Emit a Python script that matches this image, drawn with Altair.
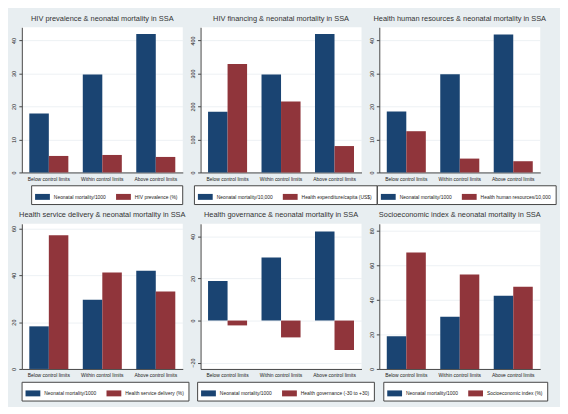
import altair as alt
import pandas as pd

categories = ["Below control limits", "Within control limits", "Above control limits"]

titles = [
    "HIV prevalence & neonatal mortality in SSA",
    "HIV financing & neonatal mortality in SSA",
    "Health human resources & neonatal mortality in SSA",
    "Health service delivery & neonatal mortality in SSA",
    "Health governance & neonatal mortality in SSA",
    "Socioeconomic index & neonatal mortality in SSA",
]
mortality_labels = [
    "Neonatal mortality/1000",
    "Neonatal mortality/10,000",
    "Neonatal mortality/1000",
    "Neonatal mortality/1000",
    "Neonatal mortality/1000",
    "Neonatal mortality/1000",
]
factor_labels = [
    "HIV prevalence (%)",
    "Health expenditure/capita (US$)",
    "Health human resources/10,000",
    "Health service delivery (%)",
    "Health governance (-30 to +30)",
    "Socioeconomic index (%)",
]
mortality_values = [
    [17.9, 29.7, 42.0],
    [184, 297, 420],
    [18.5, 29.8, 41.8],
    [18.2, 29.6, 41.9],
    [18.8, 30.0, 42.3],
    [18.9, 30.2, 42.4],
]
factor_values = [
    [5.0, 5.3, 4.7],
    [329, 215, 80],
    [12.5, 4.2, 3.4],
    [57.1, 41.2, 33.1],
    [-2.3, -8.0, -14.0],
    [67.4, 54.6, 47.5],
]
y_domains = [[0, 44], [0, 440], [0, 44], [0, 62], [-23, 46], [0, 84]]
y_ticks = [
    [0, 10, 20, 30, 40],
    [0, 100, 200, 300, 400],
    [0, 10, 20, 30, 40],
    [0, 20, 40, 60],
    [-20, 0, 20, 40],
    [0, 20, 40, 60, 80],
]

NAVY = "#1a4472"
MAROON = "#90353b"
BG = "#e8eef1"
FONT = "Liberation Sans, Arial, sans-serif"
W = 163
H = 147
LEG_FS = 5
SYM_W = 15
LEG_PAD = 4
LEG_OFF = 4
LEG_COLPAD = 10


def panel(i):
    rows = []
    for j, c in enumerate(categories):
        rows.append({"cat": c, "series": mortality_labels[i], "value": mortality_values[i][j]})
        rows.append({"cat": c, "series": factor_labels[i], "value": factor_values[i][j]})
    df = pd.DataFrame(rows)
    series = [mortality_labels[i], factor_labels[i]]
    # approximate legend width to centre it under the plot
    est_w = (2 * LEG_PAD + 2 * SYM_W + 2 * LEG_OFF + LEG_COLPAD
             + 0.43 * LEG_FS * (len(series[0]) + len(series[1])))
    leg_x = (W - est_w) / 2
    return (
        alt.Chart(df)
        .mark_bar()
        .encode(
            x=alt.X(
                "cat:N",
                sort=categories,
                scale=alt.Scale(paddingInner=0.27, paddingOuter=0.14),
                axis=alt.Axis(
                    title=None, labelAngle=0, ticks=False, labelFontSize=5,
                    labelFont=FONT, labelColor="#222", domainColor="#444",
                    labelPadding=4, grid=False,
                ),
            ),
            xOffset=alt.XOffset(
                "series:N", sort=series,
                scale=alt.Scale(paddingInner=0, paddingOuter=0),
            ),
            y=alt.Y(
                "value:Q",
                scale=alt.Scale(domain=y_domains[i], nice=False),
                axis=alt.Axis(
                    title=None, values=y_ticks[i], labelAngle=270,
                    labelFontSize=5.5, labelFont=FONT, labelColor="#222",
                    domainColor="#444", tickColor="#444", tickSize=3,
                    labelPadding=2, grid=True, gridColor="#edf1f4",
                ),
            ),
            color=alt.Color(
                "series:N",
                sort=series,
                scale=alt.Scale(domain=series, range=[NAVY, MAROON]),
                legend=alt.Legend(
                    title=None, orient="none", legendX=leg_x, legendY=H + 13,
                    direction="horizontal",
                    symbolType="M-1,-0.4H1V0.4H-1Z", symbolSize=SYM_W * SYM_W,
                    symbolStrokeWidth=0, labelFontSize=LEG_FS, labelFont=FONT,
                    labelColor="#222", strokeColor="#444", fillColor="white",
                    padding=LEG_PAD, columnPadding=LEG_COLPAD, labelOffset=LEG_OFF,
                ),
            ),
        )
        .properties(
            width=W, height=H,
            title=alt.TitleParams(
                titles[i], fontSize=7.5, font=FONT, fontWeight="normal",
                color="#333", offset=5, anchor="middle",
            ),
        )
    )


chart = (
    alt.concat(*[panel(i) for i in range(6)], columns=3,
               spacing={"row": 52, "column": 18}, bounds="flush")
    .resolve_scale(color="independent", y="independent", x="independent",
                   xOffset="independent")
    .properties(background=BG, padding={"left": 3, "top": 4, "right": 3, "bottom": 3})
    .configure_view(stroke=None, fill="white")
)

chart.save("out.html", embed_options={"renderer": "svg", "actions": False})
